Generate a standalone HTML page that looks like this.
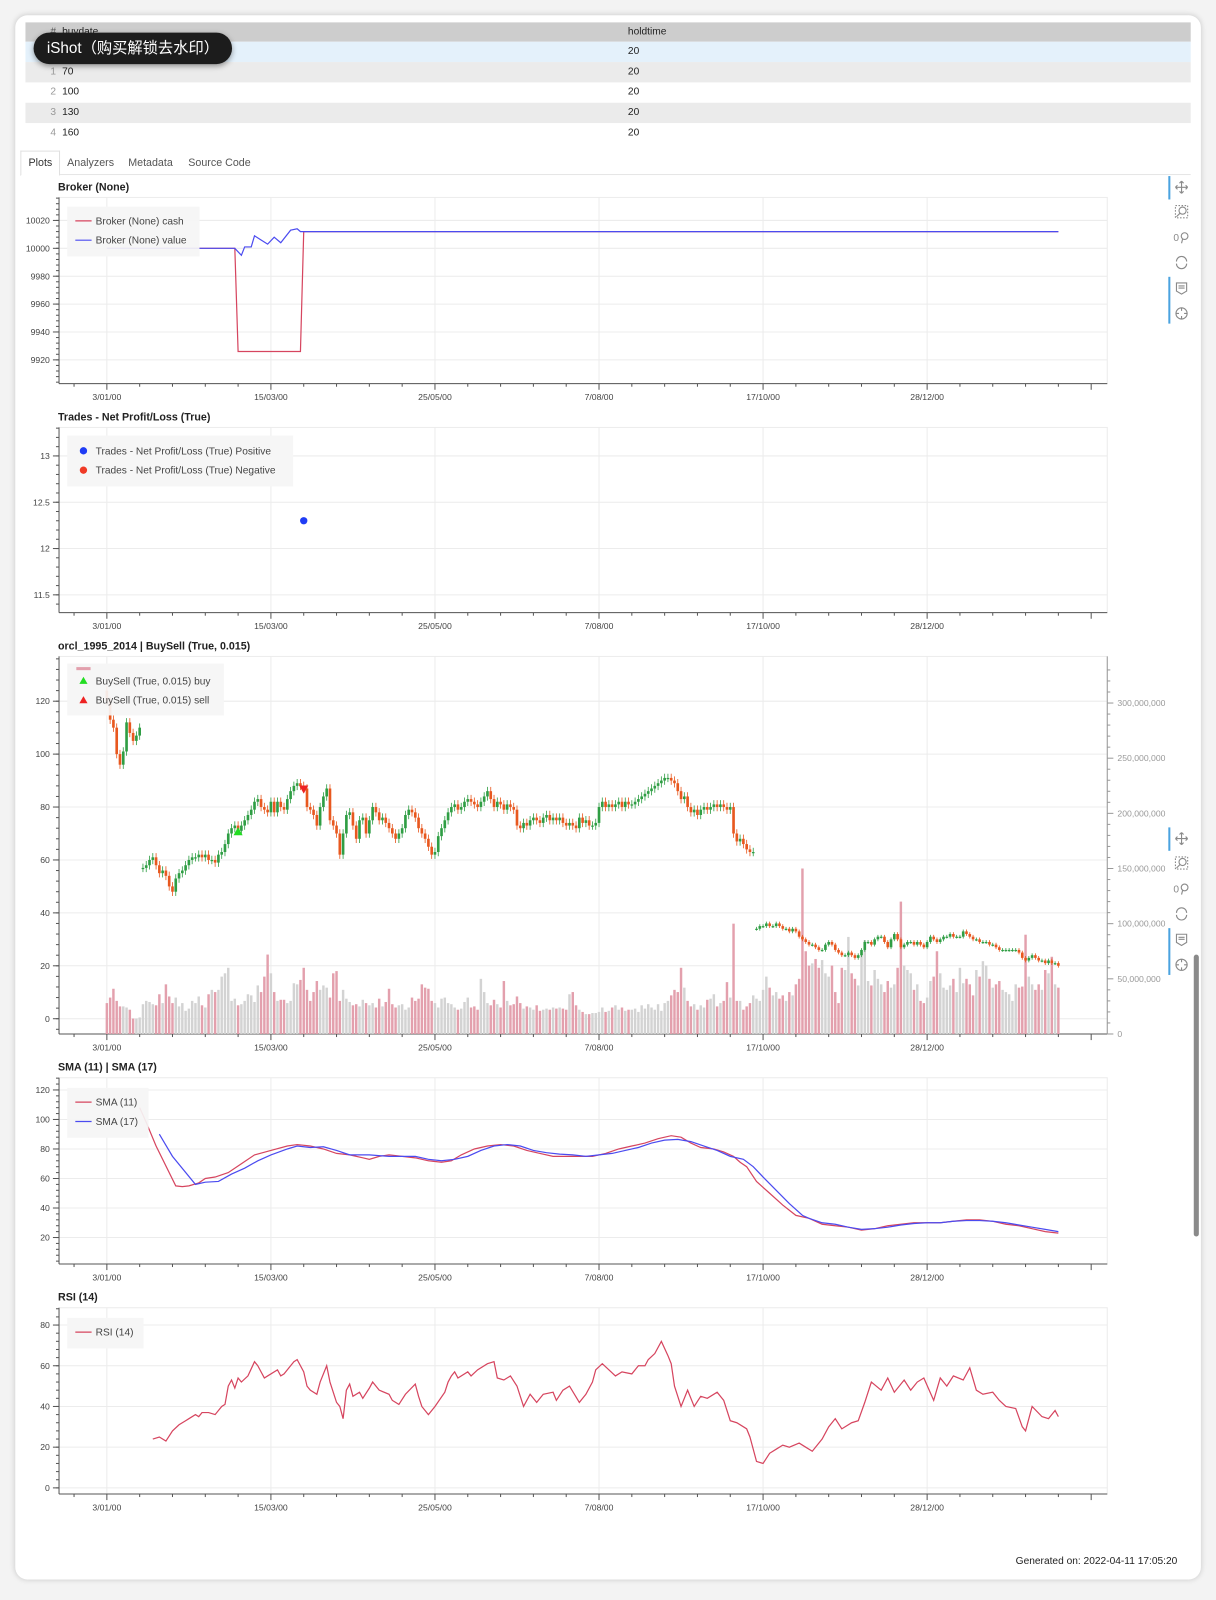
<!DOCTYPE html>
<html><head><meta charset="utf-8"><style>
html,body{margin:0;padding:0;width:1216px;height:1600px;overflow:hidden;background:#f3f3f3;font-family:"Liberation Sans","Noto Sans CJK SC",sans-serif;}
#wrap{position:absolute;left:0;top:0;width:1195px;height:1572px;transform:scale(1.0177);transform-origin:0 0;}
#panel{position:absolute;left:15px;top:15px;width:1165px;height:1537px;background:#fff;border-radius:12px;box-shadow:0 0 6px rgba(0,0,0,0.18);}
.tbl{position:absolute;left:25px;top:22px;width:1145px;font-size:10px;color:#222;}
.row{position:relative;height:20px;line-height:20px;}
.row span{position:absolute;}
.idx{left:0;width:30px;text-align:right;color:#999;}
.c1{left:36px}.c2{left:592px}
#tabs{position:absolute;left:20px;top:150px;height:21px;width:1150px;border-bottom:1px solid #e6e6e6;font-size:10.5px;color:#555;}
#tabs span{position:absolute;top:4px;}
#wm{position:absolute;left:33px;top:32px;width:195px;height:31px;background:#1c1c1c;border-radius:16px;color:#fff;font-size:15px;line-height:31px;text-indent:13px;box-shadow:0 2px 6px rgba(0,0,0,.4);}
svg text{font-family:"Liberation Sans",sans-serif;}
</style></head><body>
<div id="wrap">
<div id="panel"></div>
<div class="tbl">
 <div class="row" style="background:#cdcdcd;height:19px;line-height:19px;"><span class="idx" style="color:#555">#</span><span class="c1">buydate</span><span class="c2">holdtime</span></div>
 <div class="row" style="background:#e4f1fb"><span class="idx">0</span><span class="c1">40</span><span class="c2">20</span></div>
 <div class="row" style="background:#ebebeb"><span class="idx">1</span><span class="c1">70</span><span class="c2">20</span></div>
 <div class="row" style="background:#fff"><span class="idx">2</span><span class="c1">100</span><span class="c2">20</span></div>
 <div class="row" style="background:#ebebeb"><span class="idx">3</span><span class="c1">130</span><span class="c2">20</span></div>
 <div class="row" style="background:#fff"><span class="idx">4</span><span class="c1">160</span><span class="c2">20</span></div>
</div>
<div id="wm">iShot（购买解锁去水印）</div>
<div id="tabs">
 <div style="position:absolute;left:0;top:-2px;width:37px;height:23px;border:1px solid #e0e0e0;border-bottom:1px solid #fff;background:#fff;"></div>
 <span style="left:8px;color:#333">Plots</span>
 <span style="left:46px">Analyzers</span>
 <span style="left:106px">Metadata</span>
 <span style="left:165px">Source Code</span>
</div>
<svg id="chart" width="1195" height="1572" style="position:absolute;left:0;top:0"></svg>
<div style="position:absolute;left:998px;top:1529px;font-size:10px;color:#222">Generated on: 2022-04-11 17:05:20</div>
<div style="position:absolute;left:1173px;top:938px;width:5px;height:277px;background:#8a8a8a;border-radius:3px"></div>
</div>
<script>
// ---------- data ----------
const xTickBars=[0,50,100,150,200,250];
const xTickLabels=["3/01/00","15/03/00","25/05/00","7/08/00","17/10/00","28/12/00"];
const brokerValueBars=[0,39,41,42,44,45,47,49,51,53,56,58,59,60,290];
const brokerValueVals=[10000,10000,9995,10001,10001,10009,10006,10003,10008,10004,10013,10014,10012,10012,10012];
const brokerCashBars=[0,39,40,59,60,290];
const brokerCashVals=[10000,10000,9926,9926,10012,10012];
const tradeBars=[60];
const tradePnl=[12.3];
const closes=[120,113,110,100,96,101,112,108,105,107,110,
57,58,60,61,58,55,56,54,50,48,
53,55,56,58,60,61,61,62,61,62,
60,60,59,62,63,66,70,72,73,71,
73,75,77,79,82,83,80,79,78,82,
78,82,80,79,83,86,88,89,88,87,
80,79,77,73,80,84,87,75,73,70,
62,70,77,78,73,68,75,76,70,75,
80,78,75,76,74,72,70,68,70,72,
77,79,78,76,72,70,68,65,62,63,
69,72,75,78,80,81,79,80,82,83,
82,81,80,82,84,86,83,80,82,81,
79,81,80,79,73,72,74,73,75,76,
75,74,76,77,75,76,75,76,74,73,
74,73,72,76,74,75,73,73,74,80,
82,80,81,80,81,82,80,82,81,81,
82,83,84,85,86,87,88,89,90,91,
91,90,89,86,83,84,80,78,79,77,
79,80,79,80,81,80,81,80,79,80,
70,67,68,66,64,63,63,
34,35,35,36,35,35,36,35,34,34,33,34,33,
31,30,29,28,28,27,26,26,28,29,
28,26,25,24,24,25,24,23,24,26,
29,29,28,30,31,31,29,27,30,32,
30,27,28,29,29,28,29,28,27,29,
31,30,29,30,31,31,32,31,31,31,
33,32,31,30,30,29,29,29,28,28,
27,26,26,26,26,26,26,25,23,22,
23,24,23,22,22,21,22,21,21,20];
const volumesM=[28,33,41,30,25,25,24,22,14,14,15,
27,30,29,27,26,36,28,45,34,28,
33,25,28,21,23,30,28,34,26,24,
36,40,38,40,52,55,60,30,32,26,
27,30,36,35,29,44,38,52,72,55,
38,30,31,31,28,30,46,45,49,60,
40,30,38,48,40,44,42,33,55,57,
30,40,32,29,26,27,25,31,28,26,
28,24,32,25,29,41,27,24,26,27,
22,24,33,30,32,45,42,41,30,28,
24,32,33,28,27,24,22,23,29,33,
24,25,22,50,38,28,26,31,27,24,
48,30,26,27,34,28,23,25,24,22,
26,21,22,23,22,24,23,24,23,22,
36,38,26,22,20,18,18,19,19,20,
24,20,21,24,26,22,24,21,22,22,
23,20,26,23,27,24,22,27,21,28,
30,35,40,38,60,42,30,25,27,22,
26,24,31,32,36,25,28,30,47,33,
100,30,30,22,25,28,35,
32,30,40,52,42,35,38,32,35,30,38,35,45,
50,150,75,62,64,68,60,67,55,52,
62,38,28,60,58,88,55,50,44,72,
85,48,44,58,50,45,38,48,42,45,
60,120,62,58,55,40,45,30,28,33,
48,52,75,55,42,40,44,50,38,60,
46,50,45,35,58,52,66,62,50,42,
45,48,40,38,36,30,45,42,43,90,
52,45,40,45,40,58,55,70,45,42];
const buyBars=[40]; const buyPrices=[70.5];
const sellBars=[60]; const sellPrices=[87];
const sma11Bars=[10,12,15,21,23,25,28,30,33,37,41,45,50,55,58,62,66,70,74,78,80,83,86,90,94,98,102,105,108,112,116,120,124,128,132,136,140,144,148,152,156,160,164,168,172,175,178,181,185,188,191,193,195,198,202,206,210,214,218,222,226,230,234,238,242,246,250,254,258,262,266,270,274,278,282,286,290];
const sma11Vals=[108,98,82,55,54.5,55,57,60,61,64,70,76,79,82,83,82,80,77,76,74,73,75,76,75,74,72,71,72,76,80,82,83,82,79,77,75,75,75,75,77,80,82,84,87,89,88,84,81,80,78,75,71,68,58,50,42,35,33,29,28,27,25,26,28,29,30,30,30,31,32,32,31,29,28,26,24,23];
const sma17Bars=[16,20,27,30,34,38,42,46,50,55,58,62,66,70,74,80,86,90,94,98,102,106,110,114,118,122,126,130,134,138,142,146,150,154,158,162,166,170,174,178,182,186,190,194,197,200,204,208,212,214,218,222,226,230,234,238,242,246,250,254,258,262,266,270,274,278,282,286,290];
const sma17Vals=[90,75,56,57.5,58,63,67,72,76,80,82,81,81.5,79,76,76,75,75,75,73,72,73,75,79,82,83,82,79,77.5,76.5,76,75,76,77,79,81,84,86,86.5,85,82,79,75,73,68,61,52,43,35,33,30,29,27,25.5,26,27,28.5,29.5,30,30,31,31.5,31.5,31,30,28.5,27,25.5,24];
const rsiBars=[14,16,18,20,22,24,25,27,28,29,31,33,35,36,37,38,39,40,41,43,45,46,47,48,49,52,53,54,56,57,58,60,61,62,64,65,67,68,70,71,72,73,74,75,77,78,80,81,83,86,87,89,91,94,95,96,98,100,103,104,105,106,107,110,111,113,116,118,119,121,123,125,127,129,131,133,136,137,139,141,144,146,148,149,151,153,155,157,160,162,164,165,167,169,171,172,173,175,177,179,181,183,186,188,190,192,195,196,198,200,202,204,206,208,211,213,215,218,220,222,224,227,229,231,233,236,238,240,243,245,247,249,252,254,256,258,261,263,265,267,270,272,274,277,279,280,282,285,287,289,290];
const rsiVals=[24,25,23,28,31,33,34,36,35,37,37,36,40,41,50,53,49,54,52,55,62,60,57,54,55,58,55,56,60,62,63,57,50,48,46,52,60,52,42,40,34,48,51,45,47,44,49,52,48,46,43,41,46,51,45,40,36,40,47,52,55,57,54,57,55,58,61,62,54,53,55,50,40,46,42,46,47,43,48,50,42,46,52,58,61,58,55,57,56,60,60,63,66,72,65,61,50,40,48,40,45,44,47,43,33,32,29,25,13,12,17,19,21,20,22,20,18,24,30,34,29,32,33,42,52,48,54,47,53,48,52,54,43,54,50,55,53,59,48,46,47,43,40,39,30,28,40,35,34,38,35];

// ---------- helpers ----------
const NS="http://www.w3.org/2000/svg";
const svg=document.getElementById('chart');
function el(tag,attrs,parent){const e=document.createElementNS(NS,tag);for(const k in attrs)e.setAttribute(k,attrs[k]);(parent||svg).appendChild(e);return e;}
const X0=58,X1=1088;
function xb(b){return 105+b*3.224;}
function txt(x,y,s,opts,parent){const t=el('text',Object.assign({x:x,y:y,'font-size':9,fill:'#444'},opts||{}),parent);t.textContent=s;return t;}

function frame(name,title,y0,y1,yf,ticks,minorStep,fmt){
  const g=el('g',{});
  
  
  txt(57,y0-7,title,{'font-size':10.5,'font-weight':'bold',fill:'#222'},g);
  el('rect',{x:X0,y:y0,width:X1-X0,height:y1-y0,fill:'#fff',stroke:'#ececec'},g);
  xTickBars.forEach(b=>el('line',{x1:xb(b),x2:xb(b),y1:y0,y2:y1,stroke:'#ececec'},g));
  ticks.forEach(v=>el('line',{x1:X0,x2:X1,y1:yf(v),y2:yf(v),stroke:'#ececec'},g));
  // left axis
  el('line',{x1:X0,x2:X0,y1:y0,y2:y1,stroke:'#555'},g);
  const lo=ticks[0]-minorStep*20, hi=ticks[ticks.length-1]+minorStep*20;
  for(let v=lo;v<=hi+1e-9;v+=minorStep){const y=yf(v);if(y>y0&&y<y1)el('line',{x1:X0-3,x2:X0,y1:y,y2:y,stroke:'#555'},g);}
  ticks.forEach(v=>{const y=yf(v);el('line',{x1:X0-6,x2:X0,y1:y,y2:y,stroke:'#555'},g);
    const t=txt(X0-9,y+3,fmt?fmt(v):String(v),{'text-anchor':'end','font-size':8.5},g);
    
    });
  // bottom axis
  el('line',{x1:X0,x2:X1,y1:y1,y2:y1,stroke:'#555'},g);
  for(let b=-10;b<=300;b+=10){const x=xb(b);el('line',{x1:x,x2:x,y1:y1,y2:y1+(b%50===0?6:3),stroke:'#555'},g);}
  xTickBars.forEach((b,i)=>{const t=txt(xb(b),y1+16,xTickLabels[i],{'text-anchor':'middle','font-size':8.5},g);
    
    });
  return g;
}
function legend(name,x,y,w,h,items){
  const g=el('g',{});
  
  
  el('rect',{x:x,y:y,width:w,height:h,fill:'#f5f5f5','fill-opacity':0.92},g);
  items.forEach(it=>{
    if(it.kind==='line')el('line',{x1:x+8,x2:x+24,y1:it.y,y2:it.y,stroke:it.c,'stroke-width':1.2},g);
    else if(it.kind==='dot')el('circle',{cx:x+16,cy:it.y,r:3.6,fill:it.c},g);
    else if(it.kind==='tri')el('path',{d:`M${x+16} ${it.y-4}L${x+20} ${it.y+3}L${x+12} ${it.y+3}Z`,fill:it.c},g);
    else if(it.kind==='bar')el('rect',{x:x+9,y:it.y-1.5,width:14,height:3,fill:it.c},g);
    if(it.t)txt(x+28,it.y+3.5,it.t,{'font-size':10,fill:'#444'},g);
  });
}
function polyline(name,bars,vals,yf,color){
  const p=el('polyline',{points:bars.map((b,i)=>xb(b)+','+yf(vals[i])).join(' '),fill:'none',stroke:color,'stroke-width':1.2});
  
  
}

// ---------- broker ----------
const yBroker=v=>244-(v-10000)*27.4/20;
frame('broker-plot','Broker (None)',194,377,yBroker,[9920,9940,9960,9980,10000,10020],4);
polyline('broker-cash-line',brokerCashBars,brokerCashVals,yBroker,'#d6455f');
polyline('broker-value-line',brokerValueBars,brokerValueVals,yBroker,'#4b4bf0');
legend('broker-legend',66,203,130,49,[{kind:'line',c:'#d6455f',y:217,t:'Broker (None) cash'},{kind:'line',c:'#4b4bf0',y:236,t:'Broker (None) value'}]);

// ---------- trades ----------
const yTrade=v=>539-(v-12)*91;
frame('trades-plot','Trades - Net Profit/Loss (True)',420,602,yTrade,[11.5,12,12.5,13],0.1,v=>String(v));
tradeBars.forEach((b,i)=>{const c=el('circle',{cx:xb(b),cy:yTrade(tradePnl[i]),r:3.6,fill:'#1f3cf5'});
  
  });
legend('trades-legend',66,428,222,50,[{kind:'dot',c:'#1f3cf5',y:443,t:'Trades - Net Profit/Loss (True) Positive'},{kind:'dot',c:'#f03a26',y:462,t:'Trades - Net Profit/Loss (True) Negative'}]);

// ---------- price / volume ----------
const yPrice=v=>1001-v*2.6;
const yVol=m=>1016-m*1.084;
frame('price-plot','orcl_1995_2014 | BuySell (True, 0.015)',645,1016,yPrice,[0,20,40,60,80,100,120],4);
// right axis
const ra=el('g',{});


el('line',{x1:X1,x2:X1,y1:645,y2:1016,stroke:'#999'},ra);
for(let m=0;m<=330;m+=10){const y=yVol(m);if(y>645)el('line',{x1:X1,x2:X1+(m%50===0?6:3),y1:y,y2:y,stroke:'#999'},ra);}
for(let m=0;m<=300;m+=50){txt(X1+10,yVol(m)+3,m===0?'0':(m*1000000).toLocaleString('en-US'),{'font-size':8.5,fill:'#999'},ra);}
const vg=el('g',{}); const cg=el('g',{});




closes.forEach((c,i)=>{
  const o=i===0?c+4:closes[i-1]*(Math.abs(closes[i-1]-c)>15?c/closes[i-1]:1);
  const up=c>=o; const col=up?'#2f9e44':'#e8581f';
  const x=xb(i);
  const vb=el('rect',{x:x-1.2,y:yVol(volumesM[i]),width:2.4,height:volumesM[i]*1.084,fill:up?'#d3d3d3':'#e3a0ad'},vg);
  
  
  const w=c>40?1.6:0.7;
  el('line',{x1:x,x2:x,y1:yPrice(Math.max(o,c)+w),y2:yPrice(Math.min(o,c)-w),stroke:col,'stroke-width':0.8},cg);
  const top=yPrice(Math.max(o,c)),bot=yPrice(Math.min(o,c));
  const cb=el('rect',{x:x-1.3,y:top,width:2.6,height:Math.max(1.2,bot-top),fill:col},cg);
  
  
});
buyBars.forEach((b,i)=>{const x=xb(b),y=yPrice(buyPrices[i]);const t=el('path',{d:`M${x} ${y-5}L${x+4.5} ${y+3}L${x-4.5} ${y+3}Z`,fill:'#22dd22'});
  
  });
sellBars.forEach((b,i)=>{const x=xb(b),y=yPrice(sellPrices[i]);const t=el('path',{d:`M${x} ${y+5}L${x+4.5} ${y-3}L${x-4.5} ${y-3}Z`,fill:'#ee2222'});
  
  });
legend('price-legend',66,652,154,51,[{kind:'bar',c:'#e3a0ad',y:657},{kind:'tri',c:'#22dd22',y:669,t:'BuySell (True, 0.015) buy'},{kind:'tri',c:'#ee2222',y:688,t:'BuySell (True, 0.015) sell'}]);

// ---------- SMA ----------
const ySma=v=>1245-v*1.45;
frame('sma-plot','SMA (11) | SMA (17)',1059,1242,ySma,[20,40,60,80,100,120],4);
polyline('sma-11-line',sma11Bars,sma11Vals,ySma,'#d6455f');
polyline('sma-17-line',sma17Bars,sma17Vals,ySma,'#4b4bf0');
legend('sma-legend',66,1069,80,49,[{kind:'line',c:'#d6455f',y:1083,t:'SMA (11)'},{kind:'line',c:'#4b4bf0',y:1102,t:'SMA (17)'}]);

// ---------- RSI ----------
const yRsi=v=>1462-v*2;
frame('rsi-plot','RSI (14)',1285,1468,yRsi,[0,20,40,60,80],4);
polyline('rsi-line',rsiBars,rsiVals,yRsi,'#d6455f');
legend('rsi-legend',66,1295,75,30,[{kind:'line',c:'#d6455f',y:1309,t:'RSI (14)'}]);

// ---------- toolbars ----------
function toolbar(name,y0){
  const g=el('g',{stroke:'#8a8a8a',fill:'none','stroke-width':1.1});
  
  
  el('line',{x1:1149,x2:1149,y1:y0-11,y2:y0+12,stroke:'#4aa3df','stroke-width':2},g);
  el('line',{x1:1149,x2:1149,y1:y0+88,y2:y0+134,stroke:'#4aa3df','stroke-width':2},g);
  const x=1161;
  el('path',{d:`M${x-6} ${y0}H${x+6}M${x} ${y0-6}V${y0+6}M${x-6} ${y0}l2-2M${x-6} ${y0}l2 2M${x+6} ${y0}l-2-2M${x+6} ${y0}l-2 2M${x} ${y0-6}l-2 2M${x} ${y0-6}l2 2M${x} ${y0+6}l-2-2M${x} ${y0+6}l2-2`},g);
  let y=y0+24; el('rect',{x:x-6,y:y-6,width:12,height:12,'stroke-dasharray':'1.5 1.5'},g); el('circle',{cx:x+1,cy:y-1,r:3.5},g); el('line',{x1:x-1.5,y1:y+1.5,x2:x-5,y2:y+5},g);
  y=y0+49; txt(x-8,y+4,'0',{'font-size':10,fill:'#8a8a8a',stroke:'none'},g); el('circle',{cx:x+3,cy:y-1,r:3.3},g); el('line',{x1:x+1,y1:y+2,x2:x,y2:y+6},g);
  y=y0+74; el('path',{d:`M${x-5} ${y-1}A5 5 0 0 1 ${x+5} ${y-1}M${x+5} ${y+1}A5 5 0 0 1 ${x-5} ${y+1}`},g);
  y=y0+99; el('path',{d:`M${x-5} ${y-5}H${x+5}V${y+3}L${x} ${y+6}L${x-5} ${y+3}Z M${x-3} ${y-2}H${x+3}M${x-3} ${y}H${x+3}`},g);
  y=y0+124; el('circle',{cx:x,cy:y,r:5.5},g); el('path',{d:`M${x-5.5} ${y}h3M${x+5.5} ${y}h-3M${x} ${y-5.5}v3M${x} ${y+5.5}v-3`},g);
}
toolbar('toolbar-top',184);
toolbar('toolbar-bottom',824);
</script>
</body></html>
